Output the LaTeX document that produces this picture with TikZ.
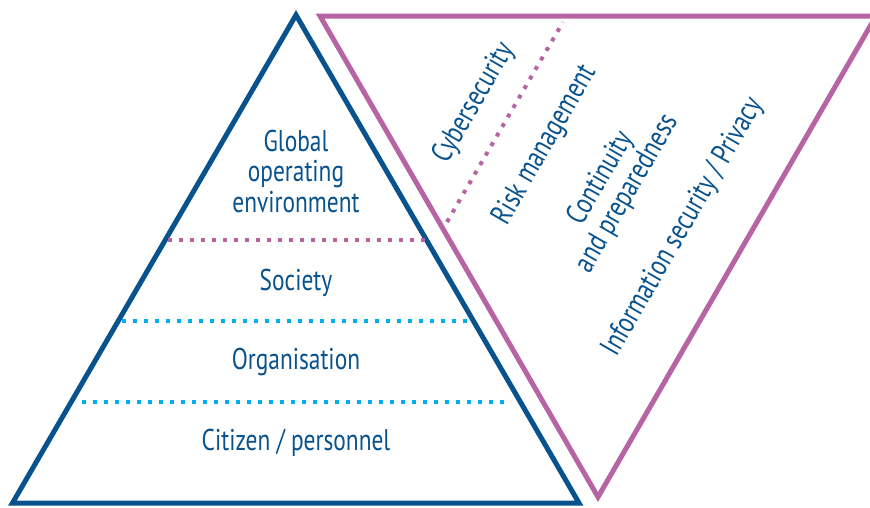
\documentclass[tikz,border=0pt]{standalone}
\usepackage{fontspec}
\setmainfont{PT Sans}[FakeStretch=0.78]
\definecolor{navy}{RGB}{8,82,142}
\definecolor{mauve}{RGB}{183,100,165}
\definecolor{skyc}{RGB}{0,174,239}
\tikzset{
  edgeline/.style={line width=5pt, line join=miter},
  dotline/.style={line width=4pt, dash pattern=on 4pt off 7pt, line cap=butt},
  lbl/.style={text=navy, font=\fontsize{30}{30.5}\selectfont, align=center, inner sep=0pt},
  rlbl/.style={lbl, rotate=60}
}
\begin{document}
\begin{tikzpicture}[x=1pt,y=-1pt]
\useasboundingbox (0,0) rectangle (870,507);
\clip (0,0) rectangle (870,507);
\fill[white] (0,0) rectangle (870,507);
% blue pyramid
\coordinate (bA) at (296,15);
\coordinate (bL) at (12.5,503);
\coordinate (bR) at (579,503);
\draw[edgeline, navy] (bA) -- (bL) -- (bR) -- cycle;
% pink inverted triangle
\coordinate (pL) at (320,16);
\coordinate (pR) at (876,16);
\coordinate (pB) at (598,497);
\draw[edgeline, mauve] (pL) -- (pR) -- (pB) -- cycle;
% dotted separators
\coordinate (d1a) at (168,240); \coordinate (d1b) at (425,240);
\coordinate (d2a) at (122,321); \coordinate (d2b) at (471,321);
\coordinate (d3a) at (82,402);  \coordinate (d3b) at (511,402);
\coordinate (d4a) at (447,222); \coordinate (d4b) at (563,22);
\draw[dotline, mauve] (d1a) -- (d1b);
\draw[dotline, skyc] (d2a) -- (d2b);
\draw[dotline, skyc] (d3a) -- (d3b);
\draw[dotline, mauve] (d4a) -- (d4b);
% pyramid labels
\node[lbl] (global) at (296,171) {Global\\operating\\environment};
\node[lbl] (society) at (296,283) {Society};
\node[lbl] (org) at (296,362) {Organisation};
\node[lbl] (citizen) at (296,443) {Citizen / personnel};
% rotated labels
\node[rlbl] (cyber) at (474,103) {Cybersecurity};
\node[rlbl] (risk) at (545,145) {Risk management};
\node[rlbl] (cont) at (614,186) {Continuity\\and preparedness};
\node[rlbl] (info) at (683,227) {Information security / Privacy};
\end{tikzpicture}
\end{document}
